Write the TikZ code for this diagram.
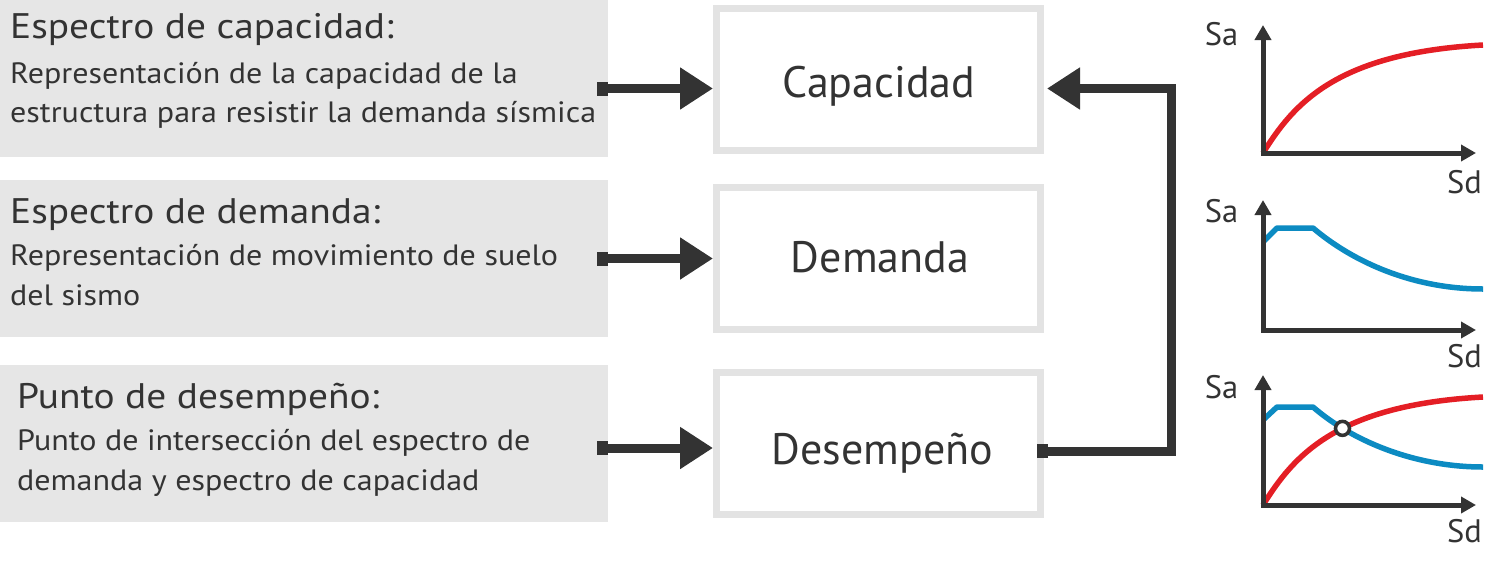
\documentclass[tikz,border=0pt]{standalone}
\usepackage{fontspec}
\setmainfont{PT Sans}
\newfontfamily\titlefont[FakeStretch=1.11]{PT Sans}
\newfontfamily\descfont[FakeStretch=1.09]{PT Sans}
\usetikzlibrary{arrows.meta,intersections}
\definecolor{ink}{HTML}{333333}
\definecolor{panel}{HTML}{E6E6E6}
\definecolor{frame}{HTML}{E3E3E3}
\definecolor{capred}{HTML}{E41E25}
\definecolor{demblue}{HTML}{0C8BC2}
\begin{document}
\begin{tikzpicture}[x=1pt,y=-1pt,
  title/.style={anchor=base west,inner sep=0,text=ink,font=\titlefont\fontsize{35.5}{40}\selectfont},
  desc/.style={anchor=base west,inner sep=0,text=ink,font=\descfont\fontsize{29.4}{40}\selectfont},
  panelbox/.style={fill=panel,anchor=north west,minimum width=608pt,minimum height=157pt,inner sep=0},
  stagebox/.style={draw=frame,line width=7pt,fill=white,minimum width=324pt,minimum height=142pt,inner sep=0},
  stagelabel/.style={anchor=base,inner sep=0,text=ink,font=\fontsize{44}{50}\selectfont},
  conn/.style={draw=ink,line width=9pt,{Square[length=11pt,width=14pt]}-{Triangle[length=33pt,width=40pt]}},
  axis/.style={draw=ink,line width=5pt,{Triangle[length=15pt,width=16pt]}-{Triangle[length=15pt,width=16pt]}},
  axlabel/.style={anchor=base,inner sep=0,text=ink,font=\fontsize{32.5}{36}\selectfont},
  capcurve/.style={draw=capred,line width=5.5pt,line cap=butt},
  demcurve/.style={draw=demblue,line width=5.5pt,line join=round},
  crosspt/.style={circle,draw=ink,line width=3.5pt,fill=white,minimum size=14pt,inner sep=0},
]
\useasboundingbox (0,0) rectangle (1498,565);

% left panels
\node[panelbox] (p1) at (0,0) {};
\node[panelbox] (p2) at (0,180) {};
\node[panelbox] (p3) at (0,364.5) {};

\node[title] (t1) at (10,38.5) {Espectro de capacidad:};
\node[desc] (d1a) at (10,83) {Representación de la capacidad de la};
\node[desc] (d1b) at (10,122) {estructura para resistir la demanda sísmica};

\node[title] (t2) at (10,223) {Espectro de demanda:};
\node[desc] (d2a) at (10,265) {Representación de movimiento de suelo};
\node[desc] (d2b) at (10,305) {del sismo};

\node[title] (t3) at (17,408.5) {Punto de desempeño:};
\node[desc] (d3a) at (17,450) {Punto de intersección del espectro de};
\node[desc] (d3b) at (17,490) {demanda y espectro de capacidad};

% stage boxes
\node[stagebox] (b1) at (878.5,79.5) {};
\node[stagebox] (b2) at (878.5,258.5) {};
\node[stagebox] (b3) at (878.5,443) {};
\node[stagelabel] (l1) at (879,97) {Capacidad};
\node[stagelabel] (l2) at (880,272) {Demanda};
\node[stagelabel] (l3) at (882.5,464) {Desempeño};

% connectors
\coordinate (s1) at (597,88.5);
\coordinate (s2) at (597,258.5);
\coordinate (s3) at (597,448);
\draw[conn] (s1) -- (s1 -| b1.west);
\draw[conn] (s2) -- (s2 -| b2.west);
\draw[conn] (s3) -- (s3 -| b3.west);

\coordinate (f0) at (1037,451);
\coordinate (fc) at (1171.5,88.5);
\draw[conn] (f0) -| (fc) -- ([xshift=3pt]b1.east |- fc);

% chart 1
\begin{scope}[shift={(1263,153)}]
  \draw[capcurve] (0,0) .. controls (30,-48) and (72,-100) .. (220,-108);
  \draw[axis] (0,-128) -- (0,0) -- (213,0);
\end{scope}
\node[axlabel] (sa1) at (1221.5,45) {Sa};
\node[axlabel] (sd1) at (1464.5,193) {Sd};

% chart 2
\begin{scope}[shift={(1263,330)}]
  \draw[demcurve] (0,-88) -- (14,-102) -- (50,-102) .. controls (90,-68) and (150,-41) .. (220,-41);
  \draw[axis] (0,-130) -- (0,0) -- (213,0);
\end{scope}
\node[axlabel] (sa2) at (1221.5,222) {Sa};
\node[axlabel] (sd2) at (1464.5,367) {Sd};

% chart 3
\begin{scope}[shift={(1263,505)}]
  \draw[demcurve,name path global=blue3] (0,-85) -- (14,-98) -- (50,-98) .. controls (88,-65) and (150,-38) .. (220,-38);
  \draw[capcurve,name path global=red3] (0,0) .. controls (30,-48) and (72,-100) .. (220,-108);
  \draw[axis] (0,-130) -- (0,0) -- (213,0);
\end{scope}
\path[name intersections={of=red3 and blue3,by=ip}];
\node[crosspt] (pp) at (ip) {};
\node[axlabel] (sa3) at (1221.5,398) {Sa};
\node[axlabel] (sd3) at (1464.5,542) {Sd};
\end{tikzpicture}
\end{document}
